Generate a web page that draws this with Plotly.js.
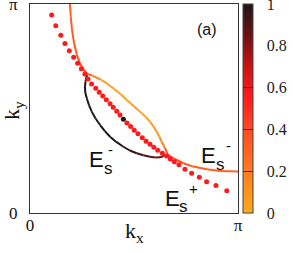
<!DOCTYPE html>
<html><head><meta charset="utf-8">
<script src="https://cdn.plot.ly/plotly-3.0.1.min.js"></script>
<style>html,body{margin:0;padding:0;background:#fff}</style>
</head><body><div id="chart" style="width:293px;height:253px"></div>
<script>
// Coordinates in units of pi (0..1)
// E_s^+ Fermi surface (dots)
const dotsX = [0.104,0.124,0.148,0.168,0.189,0.210,0.229,0.247,0.264,0.279,0.296,0.316,0.333,0.350,0.367,0.385,0.400,0.417,0.433,0.449,0.466,0.484,0.501,0.519,0.540,0.558,0.577,0.595,0.614,0.636,0.657,0.675,0.694,0.716,0.745,0.777,0.814,0.849,0.894,0.946];
const dotsY = [0.947,0.896,0.851,0.811,0.776,0.745,0.717,0.690,0.665,0.641,0.617,0.597,0.578,0.560,0.542,0.523,0.506,0.487,0.469,0.449,0.431,0.414,0.396,0.379,0.360,0.343,0.329,0.314,0.300,0.286,0.273,0.258,0.245,0.231,0.209,0.190,0.171,0.150,0.131,0.107];
const dotsV = [0.56,0.56,0.56,0.56,0.56,0.56,0.56,0.56,0.56,0.56,0.56,0.56,0.56,0.56,0.56,0.56,0.56,0.56,0.56,1.0,0.56,0.56,0.56,0.56,0.56,0.56,0.56,0.56,0.56,0.56,0.56,0.56,0.56,0.56,0.56,0.56,0.56,0.56,0.56,0.56];

// E_s^- outer branch: top edge -> upper pocket side -> right edge
const outerX = [0.192,0.196,0.202,0.212,0.225,0.240,0.258,0.274,0.300,0.337,0.370,0.400,0.435,0.465,0.500,0.529,0.556,0.577,0.595,0.609,0.622,0.633,0.649,0.663,0.689,0.737,0.785,0.850,0.913,1.000];
const outerY = [1.000,0.939,0.876,0.812,0.758,0.716,0.686,0.667,0.657,0.640,0.620,0.597,0.569,0.541,0.511,0.485,0.460,0.437,0.412,0.389,0.365,0.341,0.310,0.278,0.262,0.238,0.222,0.209,0.201,0.198];
const outerV = [0.30,0.30,0.32,0.33,0.35,0.38,0.42,0.45,0.25,0.10,0.06,0.05,0.05,0.05,0.05,0.05,0.05,0.06,0.07,0.08,0.10,0.12,0.25,0.45,0.40,0.37,0.34,0.32,0.30,0.30];

// E_s^- inner (lower pocket side)
const innerX = [0.274,0.267,0.264,0.266,0.273,0.284,0.297,0.315,0.337,0.360,0.385,0.415,0.449,0.480,0.513,0.545,0.577,0.604,0.625,0.640,0.652];
const innerY = [0.660,0.630,0.604,0.575,0.549,0.515,0.485,0.452,0.421,0.392,0.365,0.340,0.317,0.299,0.286,0.276,0.269,0.266,0.267,0.271,0.278];
const innerV = [1,1,1,1,1,1,1,1,1,1,1,1,0.98,0.97,0.95,0.92,0.9,0.87,0.85,0.82,0.8];

const tickVals = [0,0.9999];
const tickText = ['0','\u03c0'];
const cbVals = [0,0.2,0.4,0.6,0.8,0.9999];
const cbPad = '\u2009\u2009\u2009';
const cbText = ['0','0.2','0.4','0.6','0.8','1'].map(t => cbPad + t);

const colorStops = [[0,'#ffab1c'],[0.2,'#ff7b22'],[0.4,'#ff4a22'],[0.55,'#ff1c1c'],[0.7,'#cc1212'],[0.85,'#6e1212'],[1,'#1e1616']];

function hex2rgb(h){return [parseInt(h.slice(1,3),16),parseInt(h.slice(3,5),16),parseInt(h.slice(5,7),16)];}
function colorAt(v){
  for(let i=0;i<colorStops.length-1;i++){
    const a=colorStops[i], b=colorStops[i+1];
    if(v>=a[0] && v<=b[0]){
      const t=(v-a[0])/(b[0]-a[0]); const ca=hex2rgb(a[1]), cb=hex2rgb(b[1]);
      return 'rgb('+ca.map((c,k)=>Math.round(c+(cb[k]-c)*t)).join(',')+')';
    }
  }
  return colorStops[colorStops.length-1][1];
}
function segTraces(xs,ys,vs,w){
  const out=[];
  for(let i=0;i<xs.length-1;i++){
    out.push({x:[xs[i],xs[i+1]],y:[ys[i],ys[i+1]],mode:'lines',type:'scatter',
      line:{color:colorAt((vs[i]+vs[i+1])/2),width:w},hoverinfo:'skip',showlegend:false});
  }
  return out;
}

const traces = [].concat(segTraces(outerX,outerY,outerV,2), segTraces(innerX,innerY,innerV,2));
traces.push({x:dotsX,y:dotsY,type:'scatter',mode:'markers',showlegend:false,hoverinfo:'skip',
  marker:{color:dotsV,colorscale:colorStops,cmin:0,cmax:1,size:5,line:{width:0},showscale:true,
    colorbar:{thickness:10,thicknessmode:'pixels',len:1,lenmode:'fraction',x:1.024,xanchor:'left',xpad:0,
      y:0.5,yanchor:'middle',ypad:0,outlinewidth:1,outlinecolor:'#444',
      tickvals:cbVals,ticktext:cbText,ticks:'inside',ticklen:10,tickwidth:1,tickcolor:'#333',
      ticklabeloverflow:'allow',
      tickfont:{family:'Liberation Serif',size:16,color:'#222'}}}});

const serif = 'Liberation Serif';
const sans = 'Liberation Sans';
const layout = {
  width:293,height:253,margin:{l:30,r:55,t:4,b:40,autoexpand:false},
  paper_bgcolor:'#fff',plot_bgcolor:'#fff',showlegend:false,
  xaxis:{range:[0,1],tickvals:tickVals,ticktext:tickText,showline:true,mirror:true,linecolor:'#333',linewidth:1,
    showgrid:false,zeroline:false,ticks:'',ticklabelstandoff:-3,ticklabeloverflow:'allow',
    tickfont:{family:serif,size:17,color:'#111'},fixedrange:true},
  yaxis:{range:[0,1],tickvals:tickVals,ticktext:tickText,showline:true,mirror:true,linecolor:'#333',linewidth:1,
    showgrid:false,zeroline:false,ticks:'outside',ticklen:8,tickcolor:'rgba(0,0,0,0)',ticklabeloverflow:'allow',
    tickfont:{family:serif,size:17,color:'#111'},fixedrange:true},
  annotations:[
    {text:'k<sub>x</sub>',xref:'paper',yref:'paper',x:0.5,y:0,yanchor:'top',xanchor:'center',yshift:-3,showarrow:false,font:{family:serif,size:22,color:'#111'}},
    {text:'k<sub>y</sub>',xref:'paper',yref:'paper',x:-0.082,y:0.493,textangle:-90,xanchor:'center',yanchor:'middle',showarrow:false,font:{family:serif,size:22,color:'#111'}},
    {text:'(a)',xref:'paper',yref:'paper',x:0.91,y:0.93,showarrow:false,font:{family:sans,size:16,color:'#111'}},
    {text:'E',x:0.318,y:0.255,showarrow:false,font:{family:sans,size:22,color:'#111'}},
    {text:'s',x:0.375,y:0.212,showarrow:false,font:{family:sans,size:17,color:'#111'}},
    {text:'-',x:0.385,y:0.305,showarrow:false,font:{family:sans,size:15,color:'#111'}},
    {text:'E',x:0.856,y:0.275,showarrow:false,font:{family:sans,size:22,color:'#111'}},
    {text:'s',x:0.916,y:0.230,showarrow:false,font:{family:sans,size:17,color:'#111'}},
    {text:'-',x:0.954,y:0.322,showarrow:false,font:{family:sans,size:15,color:'#111'}},
    {text:'E',x:0.683,y:0.069,showarrow:false,font:{family:sans,size:22,color:'#111'}},
    {text:'s',x:0.740,y:0.030,showarrow:false,font:{family:sans,size:17,color:'#111'}},
    {text:'+',x:0.788,y:0.117,showarrow:false,font:{family:sans,size:15,color:'#111'}}
  ]
};
Plotly.newPlot('chart',traces,layout,{staticPlot:true,displayModeBar:false});
</script></body></html>
